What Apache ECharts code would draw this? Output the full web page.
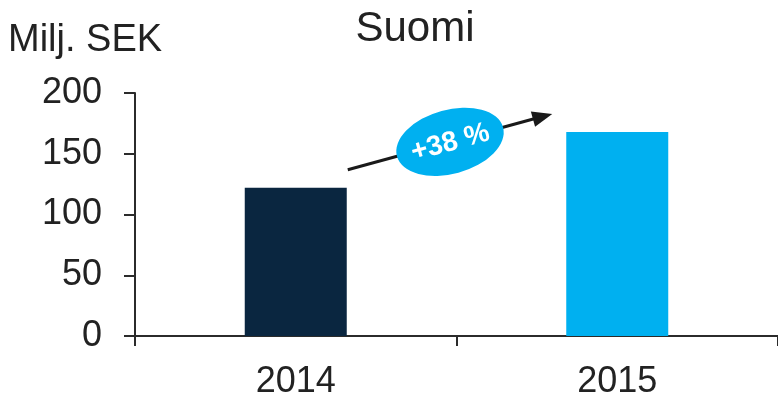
<!DOCTYPE html>
<html>
<head>
<meta charset="utf-8">
<script src="https://cdn.jsdelivr.net/npm/echarts@6/dist/echarts.min.js"></script>
<style>
html,body{margin:0;padding:0;background:#fff;}
#chart{width:778px;height:400px;}
</style>
</head>
<body>
<div id="chart"></div>
<script>
const titleText = 'Suomi';
const unitText = 'Milj. SEK';
const categories = ['2014', '2015'];
const values = [122, 168];
const barColors = ['#0a2640', '#00b0f0'];
const yMin = 0, yMax = 200, yInterval = 50;

const FONT = "'Liberation Sans', Arial, sans-serif";
const TEXT = '#222222';
const LINE = '#2b2b2b';

const chart = echarts.init(document.getElementById('chart'), null, {renderer: 'canvas'});
chart.setOption({
  animation: false,
  backgroundColor: '#ffffff',
  grid: {left: 135, right: 0, top: 93, bottom: 57, containLabel: false},
  xAxis: {
    type: 'category',
    data: categories,
    boundaryGap: true,
    axisLine: {show: true, lineStyle: {color: LINE, width: 2}},
    axisTick: {show: true, length: 10, alignWithLabel: false, lineStyle: {color: LINE, width: 2}},
    axisLabel: {color: TEXT, fontFamily: FONT, fontSize: 36, margin: 28}
  },
  yAxis: {
    type: 'value',
    min: yMin, max: yMax, interval: yInterval,
    splitLine: {show: false},
    axisLine: {show: true, lineStyle: {color: LINE, width: 2}},
    axisTick: {show: true, length: 11, inside: false, lineStyle: {color: LINE, width: 2}},
    axisLabel: {color: TEXT, fontFamily: FONT, fontSize: 36, margin: 33}
  },
  series: [{
    type: 'bar',
    barWidth: 102,
    data: values.map((v, i) => ({value: v, itemStyle: {color: barColors[i]}}))
  }]
});

// annotation derived from data positions
const p1 = chart.convertToPixel({seriesIndex: 0}, [0, values[0]]);
const p2 = chart.convertToPixel({seriesIndex: 0}, [1, values[1]]);
const start = [p1[0] + 52, p1[1] - 18];
const end = [p2[0] - 65, p2[1] - 18];
const dx = end[0] - start[0], dy = end[1] - start[1];
const len = Math.sqrt(dx * dx + dy * dy);
const ang = Math.atan2(-dy, dx);
const pct = '+' + Math.round((values[1] / values[0] - 1) * 100) + ' %';

chart.setOption({
  graphic: [
    {type: 'text', x: 415, y: 8, style: {text: titleText, fill: TEXT, font: '42px ' + FONT, textAlign: 'center', textVerticalAlign: 'top'}},
    {type: 'text', x: 8, y: 22, style: {text: unitText, fill: TEXT, font: '38px ' + FONT, textAlign: 'left', textVerticalAlign: 'top'}},
    {
      type: 'group',
      x: start[0], y: start[1],
      rotation: ang,
      children: [
        {type: 'line', shape: {x1: 0, y1: 0, x2: len - 14, y2: 0}, style: {stroke: '#1a1a1a', lineWidth: 3}},
        {type: 'polygon', shape: {points: [[len, 0], [len - 20, -8], [len - 20, 8]]}, style: {fill: '#1a1a1a'}},
        {type: 'circle', x: len / 2, y: 0, scaleX: 55 / 32, shape: {cx: 0, cy: 0, r: 32}, style: {fill: '#00b0f0'}},
        {type: 'text', x: len / 2, y: 1, style: {text: pct, fill: '#ffffff', font: 'bold 28px ' + FONT, textAlign: 'center', textVerticalAlign: 'middle'}}
      ]
    }
  ]
});
</script>
</body>
</html>
